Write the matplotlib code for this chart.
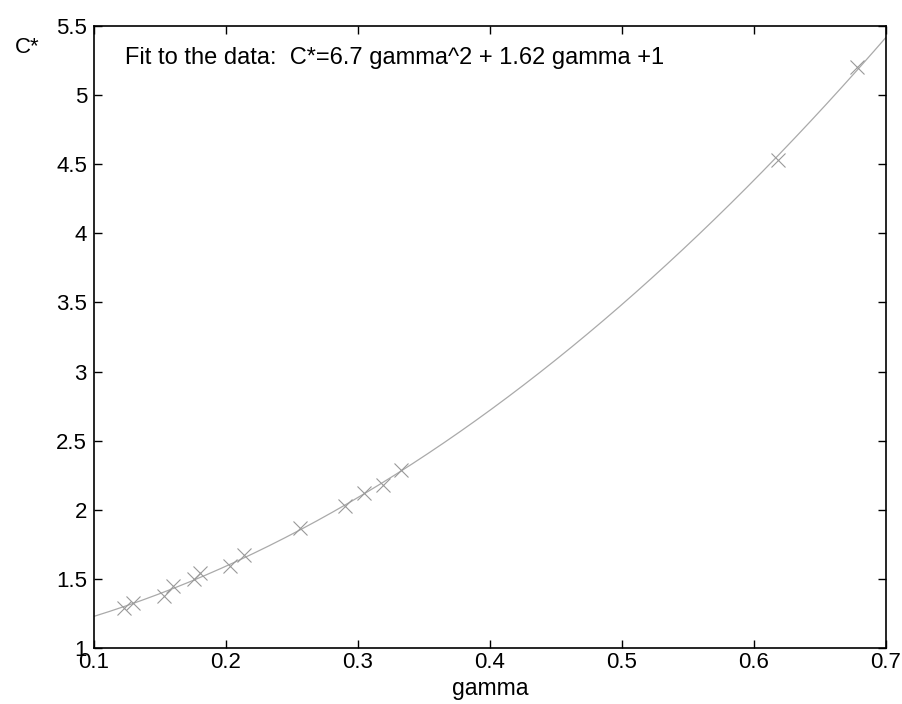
import matplotlib
matplotlib.use("Agg")
from matplotlib import pyplot as plt
import numpy as np

plt.rcParams['font.family'] = ['Liberation Sans', 'DejaVu Sans']

# measured points (gamma, C*)
gamma = [0.1227, 0.1298, 0.153, 0.160, 0.1758, 0.1803, 0.203, 0.214,
         0.256, 0.290, 0.3045, 0.319, 0.333, 0.618, 0.678]
cstar = [1.287, 1.323, 1.376, 1.451, 1.497, 1.541, 1.596, 1.675,
         1.866, 2.027, 2.12, 2.18, 2.288, 4.53, 5.206]

# fit coefficients as printed on the chart
fit_coef = [6.7, 1.62, 1.0]

xticks = [0.1, 0.2, 0.3, 0.4, 0.5, 0.6, 0.7]
yticks = [1, 1.5, 2, 2.5, 3, 3.5, 4, 4.5, 5, 5.5]

fig = plt.figure(figsize=(9.03, 7.04), dpi=100)
ax = fig.add_axes([0.104, 0.0795, 0.877, 0.8835])

xf = np.linspace(0.1, 0.7, 200)
ax.plot(xf, np.polyval(fit_coef, xf), color='#aaaaaa', lw=0.9)
ax.plot(gamma, cstar, linestyle='none', marker='x', ms=10, mew=0.8, color='#999999')

ax.set_xlim(0.1, 0.7)
ax.set_ylim(1, 5.5)
ax.set_xticks(xticks)
ax.set_yticks(yticks)
ax.set_xticklabels([str(t) for t in xticks])
ax.set_yticklabels([('%g' % t) for t in yticks])
ax.tick_params(direction='in', length=6, width=1, top=True, right=True,
               labelsize=16)
ax.tick_params(axis='x', pad=3)
ax.tick_params(axis='y', pad=5)
for s in ax.spines.values():
    s.set_linewidth(1.2)

ax.set_xlabel('gamma', fontsize=16.5, labelpad=3)
ax.text(-0.1, 0.965, 'C*', transform=ax.transAxes, fontsize=16,
        ha='left', va='center')
ax.text(0.039, 0.948, 'Fit to the data:  C*=6.7 gamma^2 + 1.62 gamma +1',
        transform=ax.transAxes, fontsize=17, ha='left', va='center')

plt.savefig('out.png', dpi=100)
